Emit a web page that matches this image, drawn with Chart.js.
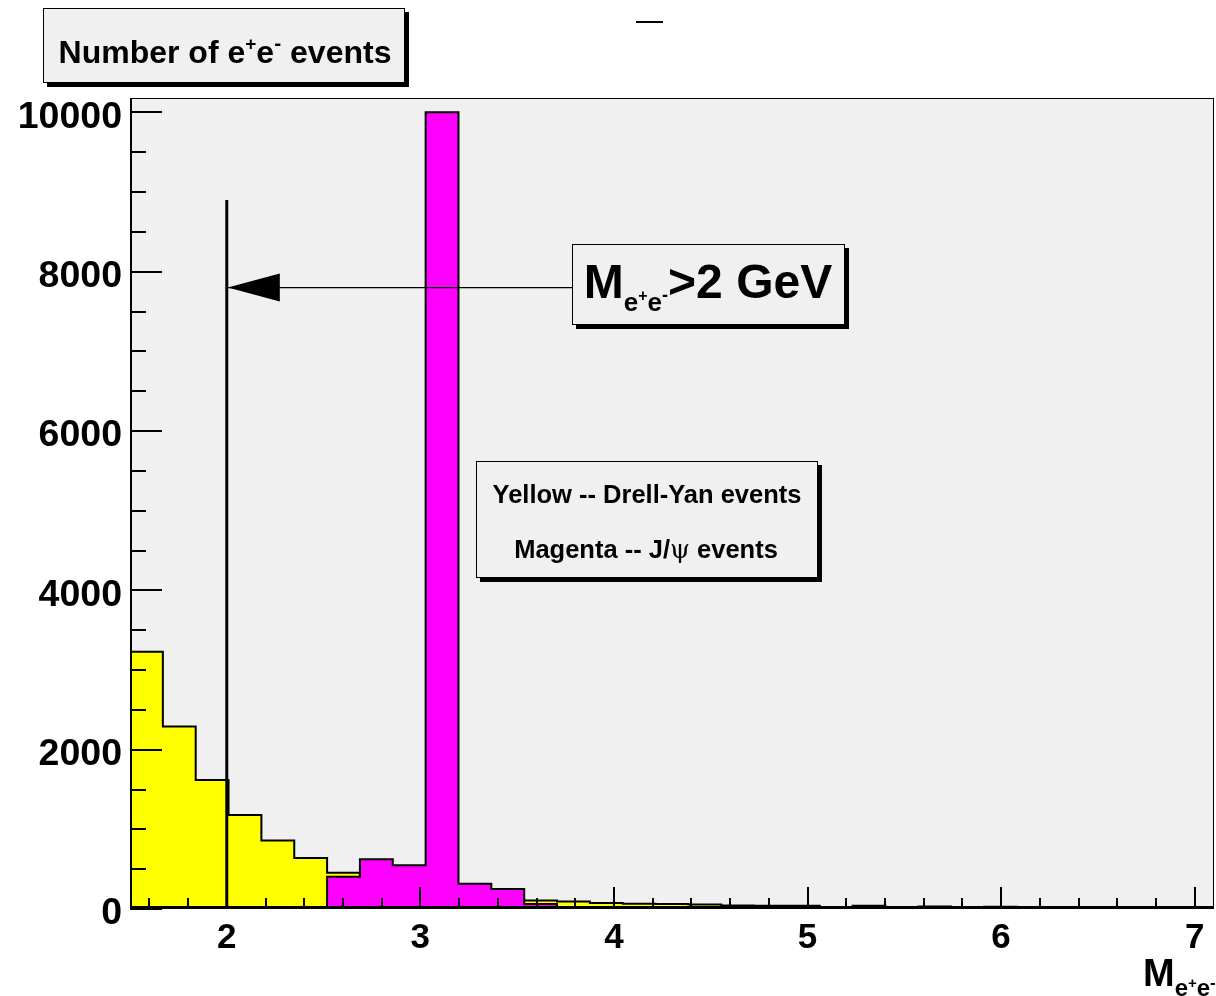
<!DOCTYPE html>
<html>
<head>
<meta charset="UTF-8">
<title>e+e- invariant mass</title>
<script src="https://cdn.jsdelivr.net/npm/chart.js"></script>
<style>
    html, body { margin: 0; padding: 0; background: #fff; }
    #wrap { width: 1216px; height: 996px; }
</style>
</head>
<body>
<div id="wrap"><canvas id="massChart" width="1216" height="996"></canvas></div>
<script>
    // Histogram range (GeV), equal-width bins
    const xMin = 1.5;
    const xMax = 7.1;

    // Counts per bin
    const drellYan = [3230, 2290, 1620, 1180, 860, 640, 455, 330, 250, 190, 150,
                      125, 108, 95, 75, 65, 62, 58, 45, 42, 40, 25, 40, 22, 30,
                      20, 28, 18, 25, 22, 15, 20, 25];
    const jpsi = [0, 0, 0, 0, 0, 0, 405, 623, 548, 10000, 317,
                  251, 63, 0, 0, 0, 0, 0, 0, 0, 0, 0, 0, 0, 0,
                  0, 0, 0, 0, 0, 0, 0, 0];

    // Axis labels
    const xTicks = [2, 3, 4, 5, 6, 7];
    const yTicks = [0, 2000, 4000, 6000, 8000, 10000];
    const yMax = 10180;

    // Mass cut marker and arrow
    const cutMass = 2.0;
    const cutTop = 8900;
    const arrowLevel = 7800;
    const arrowStart = 3.79;

    const FONT = "'Liberation Sans', Arial, Helvetica, sans-serif";
    const FRAME_FILL = '#f0f0f0';

    // Turn bin counts into an outline for a stepped line
    function stepPoints(counts) {
        const w = (xMax - xMin) / counts.length;
        const pts = [{ x: xMin, y: 0 }];
        counts.forEach((c, i) => pts.push({ x: xMin + i * w, y: c }));
        pts.push({ x: xMax, y: counts[counts.length - 1] });
        pts.push({ x: xMax, y: 0 });
        return pts;
    }

    // Text made of pieces with their own size and vertical offset
    function richWidth(ctx, parts) {
        let w = 0;
        parts.forEach(p => {
            ctx.font = (p.weight || 'bold') + ' ' + p.size + 'px ' + (p.family || FONT);
            w += ctx.measureText(p.t).width;
        });
        return w;
    }
    function drawRich(ctx, parts, x, y, align) {
        if (align === 'center') x -= richWidth(ctx, parts) / 2;
        ctx.textBaseline = 'alphabetic';
        ctx.textAlign = 'left';
        ctx.fillStyle = '#000';
        parts.forEach(p => {
            ctx.font = (p.weight || 'bold') + ' ' + p.size + 'px ' + (p.family || FONT);
            ctx.fillText(p.t, x, y + (p.dy || 0));
            x += ctx.measureText(p.t).width;
        });
    }

    // Box with a drop shadow
    function drawPave(ctx, x, y, w, h) {
        ctx.fillStyle = '#000';
        ctx.fillRect(x + 4, y + 4, w, h);
        ctx.fillStyle = FRAME_FILL;
        ctx.fillRect(x, y, w, h);
        ctx.strokeStyle = '#000';
        ctx.lineWidth = 1;
        ctx.strokeRect(x + 0.5, y + 0.5, w - 1, h - 1);
    }

    function line(ctx, x1, y1, x2, y2, width) {
        ctx.beginPath();
        ctx.lineWidth = width;
        ctx.moveTo(x1, y1);
        ctx.lineTo(x2, y2);
        ctx.stroke();
    }

    const frameBackground = {
        id: 'frameBackground',
        beforeDraw(chart) {
            const ctx = chart.ctx;
            const a = chart.chartArea;
            ctx.save();
            ctx.fillStyle = '#fff';
            ctx.fillRect(0, 0, chart.width, chart.height);
            ctx.fillStyle = FRAME_FILL;
            ctx.fillRect(a.left, a.top, a.right - a.left, a.bottom - a.top);
            ctx.restore();
        }
    };

    const decorations = {
        id: 'decorations',
        afterDatasetsDraw(chart) {
            const ctx = chart.ctx;
            const a = chart.chartArea;
            const xs = chart.scales.x;
            const ys = chart.scales.y;
            ctx.save();
            ctx.strokeStyle = '#000';

            // frame and axes
            ctx.lineWidth = 1;
            ctx.strokeRect(a.left + 0.5, a.top + 0.5, a.right - a.left - 1, a.bottom - a.top - 1);
            line(ctx, a.left + 1, a.top, a.left + 1, a.bottom, 2);
            line(ctx, a.left, a.bottom - 1.5, a.right, a.bottom - 1.5, 3);

            // inward ticks: y every 500, x every 0.2
            for (let v = 0; v <= yMax; v += 500) {
                const py = Math.round(ys.getPixelForValue(v));
                const len = v % 2000 === 0 ? 32 : 16;
                line(ctx, a.left, py, a.left + len, py, 2);
            }
            for (let k = 8; k <= 35; k++) {
                const px = Math.round(xs.getPixelForValue(k * 0.2));
                const len = k % 5 === 0 ? 22 : 11;
                line(ctx, px, a.bottom, px, a.bottom - len, 2);
            }

            // cut line at 2 GeV
            const cx = xs.getPixelForValue(cutMass);
            line(ctx, cx, ys.getPixelForValue(cutTop), cx, ys.getPixelForValue(0), 3);

            // arrow pointing to the cut
            const ay = ys.getPixelForValue(arrowLevel);
            const ax = xs.getPixelForValue(arrowStart);
            line(ctx, cx, ay, ax, ay, 1.2);
            ctx.fillStyle = '#000';
            ctx.beginPath();
            ctx.moveTo(cx + 1, ay);
            ctx.lineTo(cx + 53, ay - 14);
            ctx.lineTo(cx + 53, ay + 14);
            ctx.closePath();
            ctx.fill();

            // cut label
            drawPave(ctx, 572, 244, 273, 81);
            drawRich(ctx, [
                { t: 'M', size: 48 },
                { t: 'e', size: 26, dy: 13 },
                { t: '+', size: 16, dy: 3 },
                { t: 'e', size: 26, dy: 13 },
                { t: '-', size: 18, dy: 3 },
                { t: '>2 GeV', size: 48 }
            ], 708, 298, 'center');

            // colour key
            drawPave(ctx, 476, 461, 342, 117);
            drawRich(ctx, [{ t: 'Yellow -- Drell-Yan events', size: 25.5 }], 647, 503, 'center');
            drawRich(ctx, [
                { t: 'Magenta -- J/', size: 25.5 },
                { t: 'ψ', size: 25.5, weight: 'normal', family: "'DejaVu Serif', serif" },
                { t: ' events', size: 25.5 }
            ], 646, 558, 'center');

            // vertical axis title
            drawPave(ctx, 43, 8, 362, 75);
            drawRich(ctx, [
                { t: 'Number of e', size: 32 },
                { t: '+', size: 19, dy: -13 },
                { t: 'e', size: 32 },
                { t: '-', size: 21, dy: -13 },
                { t: ' events', size: 32 }
            ], 225, 63, 'center');

            // horizontal axis title
            drawRich(ctx, [
                { t: 'M', size: 38 },
                { t: 'e', size: 24, dy: 10 },
                { t: '+', size: 15, dy: 2 },
                { t: 'e', size: 24, dy: 10 },
                { t: '-', size: 17, dy: 2 }
            ], 1143, 986);

            // empty plot title
            ctx.strokeStyle = '#000';
            line(ctx, 636, 22, 663, 22, 2);
            ctx.restore();
        }
    };

    const ctx = document.getElementById('massChart').getContext('2d');
    new Chart(ctx, {
        type: 'line',
        data: {
            datasets: [
                {
                    label: 'J/psi',
                    data: stepPoints(jpsi),
                    stepped: true,
                    fill: 'origin',
                    backgroundColor: '#ff00ff',
                    borderColor: '#000',
                    borderWidth: 2,
                    pointRadius: 0,
                    order: 0
                },
                {
                    label: 'Drell-Yan',
                    data: stepPoints(drellYan),
                    stepped: true,
                    fill: 'origin',
                    backgroundColor: '#ffff00',
                    borderColor: '#000',
                    borderWidth: 2,
                    pointRadius: 0,
                    order: 1
                }
            ]
        },
        options: {
            responsive: false,
            animation: false,
            layout: { padding: { left: 0, right: 2, top: 98, bottom: 0 } },
            plugins: {
                legend: { display: false },
                tooltip: { enabled: false }
            },
            scales: {
                x: {
                    type: 'linear',
                    min: xMin,
                    max: xMax,
                    grid: { display: false, drawTicks: false },
                    border: { display: false },
                    afterBuildTicks: s => { s.ticks = xTicks.map(v => ({ value: v })); },
                    afterFit: s => { s.height = 87; },
                    ticks: {
                        autoSkip: false,
                        maxRotation: 0,
                        padding: 8,
                        color: '#000',
                        font: { family: FONT, size: 35, weight: 'bold' },
                        callback: v => String(v)
                    }
                },
                y: {
                    min: 0,
                    max: yMax,
                    grid: { display: false, drawTicks: false },
                    border: { display: false },
                    afterBuildTicks: s => { s.ticks = yTicks.map(v => ({ value: v })); },
                    afterFit: s => { s.width = 130; },
                    ticks: {
                        padding: 8,
                        labelOffset: 5,
                        color: '#000',
                        font: { family: FONT, size: 37.5, weight: 'bold' },
                        callback: v => String(v)
                    }
                }
            }
        },
        plugins: [frameBackground, decorations]
    });
</script>
</body>
</html>
